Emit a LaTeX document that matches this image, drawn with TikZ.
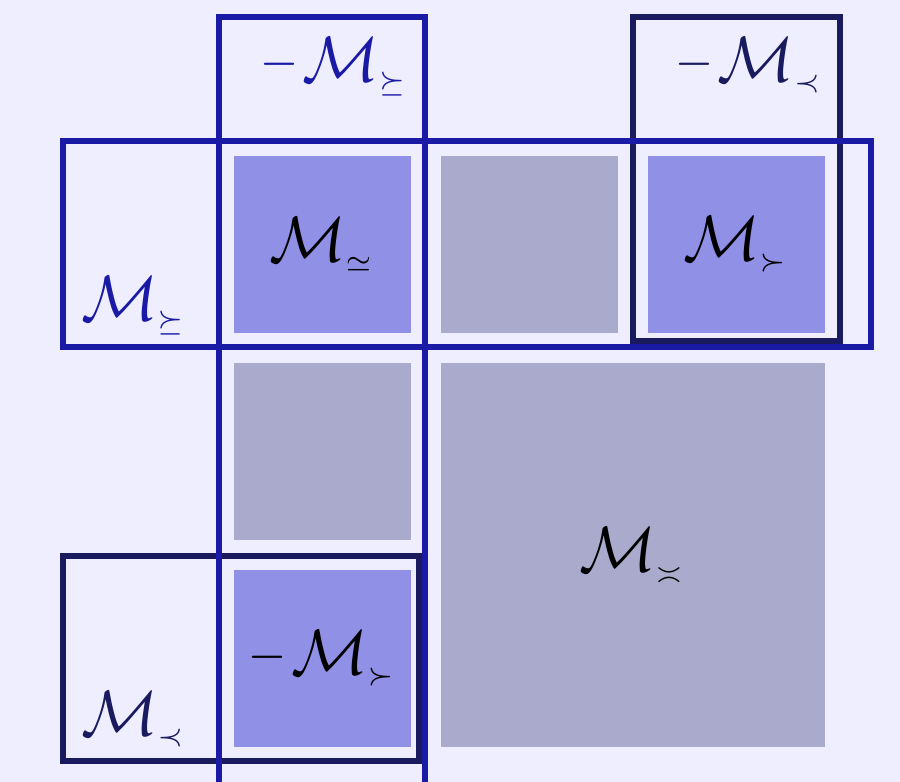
\documentclass[tikz,border=0pt]{standalone}
\usepackage{amssymb}
\definecolor{bg}{HTML}{EEEEFF}
\definecolor{frameblue}{HTML}{1A1AA6}
\definecolor{framenavy}{HTML}{1A1A5E}
\definecolor{cellhi}{HTML}{9090E6}
\definecolor{cellgray}{HTML}{AAAACC}
% small relation sign used as a subscript
\newcommand{\relsub}[1]{\mkern-0.5mu\scalebox{0.8}{$\scriptscriptstyle #1$}}
% large calligraphic M with a small relation subscript
\newcommand{\Mrel}[1]{\scalebox{6.4}{$\mathcal{M}_{\relsub{#1}}$}}
% the same, preceded by a minus sign
\newcommand{\negMrel}[1]{\scalebox{6.4}{$\raisebox{0.9pt}{$\scriptstyle -$}\mkern1mu\mathcal{M}_{\relsub{#1}}$}}
\begin{document}
\begin{tikzpicture}[x=1pt,y=-1pt,
  cell/.style={draw=none,minimum size=177pt,inner sep=0pt,outer sep=0pt},
  hicell/.style={cell,fill=cellhi},
  graycell/.style={cell,fill=cellgray},
  bluebox/.style={draw=frameblue,line width=6pt},
  navybox/.style={draw=framenavy,line width=6pt},
  tag/.style={inner sep=0pt,outer sep=0pt}]
  % canvas
  \fill[bg] (0,0) rectangle (900,782);
  \useasboundingbox (0,0) rectangle (900,782);
  \clip (0,0) rectangle (900,782);

  % the 3x3 grid of blocks (cells 207pt apart)
  \node[hicell]   (c11) at (322.5,244.5) {\Mrel{\simeq}};
  \node[graycell] (c12) at (529.5,244.5) {};
  \node[hicell]   (c13) at (736.5,244.5) {\Mrel{\succ}};
  \node[graycell] (c21) at (322.5,451.5) {};
  \node[hicell]   (c31) at (322.5,658.5) {\negMrel{\succ}};
  \node[graycell,minimum size=384pt] (c22) at (633,555) {\Mrel{\asymp}};

  % dark frames
  \coordinate (nA) at (633,17);  \coordinate (nB) at (840,341);
  \coordinate (nC) at (63,556);  \coordinate (nD) at (419,761);
  \draw[navybox] (nA) rectangle (nB);
  \draw[navybox] (nC) rectangle (nD);

  % blue frames: one column and one row
  \coordinate (bA) at (219,17);  \coordinate (bB) at (425,800);
  \coordinate (bC) at (63,141);  \coordinate (bD) at (871,347);
  \draw[bluebox] (bA) rectangle (bB);
  \draw[bluebox] (bC) rectangle (bD);

  % frame labels
  \node[tag,text=frameblue,anchor=base east] (t1) at (409,81) {\negMrel{\succeq}};
  \node[tag,text=framenavy,anchor=base east] (t2) at (824,81) {\negMrel{\prec}};
  \node[tag,text=frameblue,anchor=base west] (t3) at (81,320) {\Mrel{\succeq}};
  \node[tag,text=framenavy,anchor=base west] (t4) at (81,735) {\Mrel{\prec}};
\end{tikzpicture}
\end{document}
